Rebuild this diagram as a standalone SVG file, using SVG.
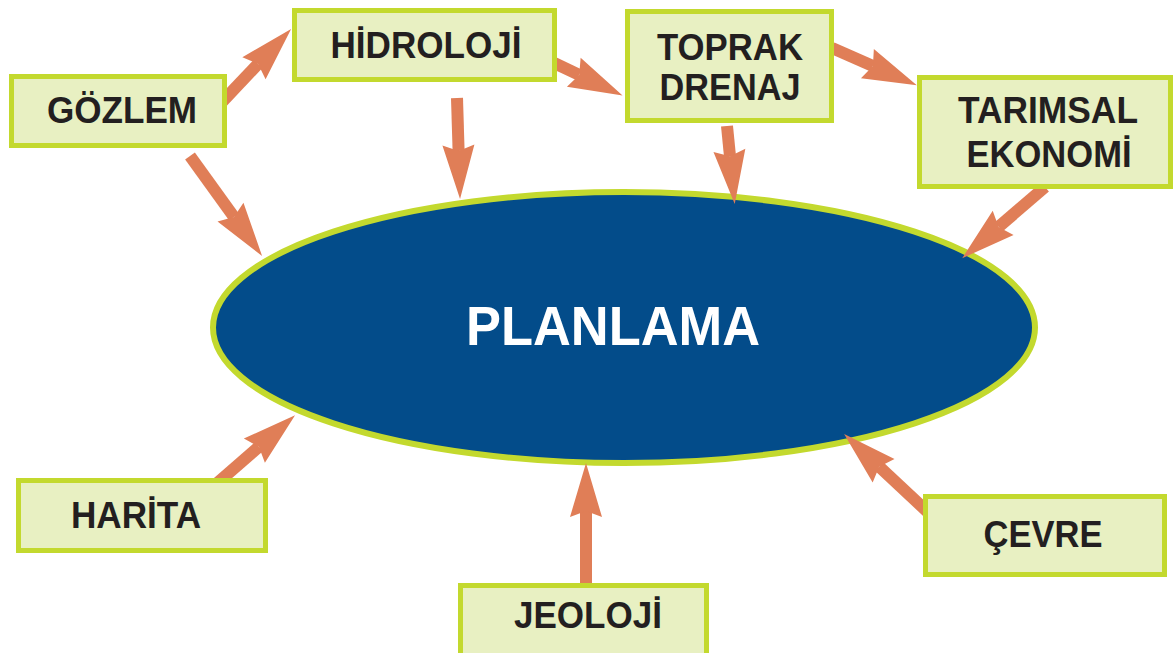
<svg xmlns="http://www.w3.org/2000/svg" width="1174" height="653" viewBox="0 0 1174 653">
<style>
.box{fill:#e8f0c2;stroke:#c3d92e;stroke-width:5}
.lbl{font-family:"Liberation Sans",Arial,sans-serif;font-weight:bold;font-size:36px;fill:#231f20;text-anchor:middle}
.arr{stroke:#e07e57;stroke-width:12;fill:none}
</style>
<defs>
<marker id="ah" markerUnits="userSpaceOnUse" markerWidth="60" markerHeight="40" viewBox="0 -20 60 40" refX="6" refY="0" orient="auto" overflow="visible">
<path d="M0,-16 L54,0 L0,16 L6,0 Z" fill="#e07e57"/>
</marker>
</defs>
<rect width="1174" height="653" fill="#ffffff"/>
<g id="planlama">
<ellipse cx="624" cy="327.5" rx="411" ry="135.5" fill="#034c8a" stroke="#c3d92e" stroke-width="6"/>
<text x="613" y="345" font-family="'Liberation Sans',Arial,sans-serif" font-weight="bold" font-size="55" fill="#ffffff" text-anchor="middle" textLength="294" lengthAdjust="spacingAndGlyphs">PLANLAMA</text>
</g>
<g id="connectors">
<line class="arr" x1="222" y1="102" x2="258.1" y2="63.9" marker-end="url(#ah)"/>
<line class="arr" x1="190" y1="156" x2="234" y2="217" marker-end="url(#ah)"/>
<line class="arr" x1="457" y1="98" x2="458.6" y2="151" marker-end="url(#ah)"/>
<line class="arr" x1="552" y1="62" x2="579.2" y2="74.9" marker-end="url(#ah)"/>
<line class="arr" x1="727" y1="126" x2="730" y2="156.3" marker-end="url(#ah)"/>
<line class="arr" x1="832" y1="48" x2="872.9" y2="66" marker-end="url(#ah)"/>
<line class="arr" x1="1045" y1="187" x2="998.6" y2="226.9" marker-end="url(#ah)"/>
<line class="arr" x1="215" y1="485" x2="258.9" y2="446.7" marker-end="url(#ah)"/>
<line class="arr" x1="586" y1="590" x2="586" y2="511" marker-end="url(#ah)"/>
<line class="arr" x1="932" y1="516" x2="879.2" y2="466.7" marker-end="url(#ah)"/>
</g>
<g id="gozlem">
<rect class="box" x="11.5" y="76.5" width="213" height="69"/>
<text class="lbl" x="122" y="123" textLength="150" lengthAdjust="spacingAndGlyphs">GÖZLEM</text>
</g>
<g id="hidroloji">
<rect class="box" x="294.5" y="10.5" width="260" height="69"/>
<text class="lbl" x="426" y="58" textLength="191" lengthAdjust="spacingAndGlyphs">HİDROLOJİ</text>
</g>
<g id="toprak-drenaj">
<rect class="box" x="627.5" y="11.5" width="204" height="109"/>
<text class="lbl" x="730" y="60" textLength="146" lengthAdjust="spacingAndGlyphs">TOPRAK</text>
<text class="lbl" x="730" y="100" textLength="141" lengthAdjust="spacingAndGlyphs">DRENAJ</text>
</g>
<g id="tarimsal-ekonomi">
<rect class="box" x="919.5" y="77.5" width="251" height="109"/>
<text class="lbl" x="1048" y="123" textLength="180" lengthAdjust="spacingAndGlyphs">TARIMSAL</text>
<text class="lbl" x="1049" y="167" textLength="165" lengthAdjust="spacingAndGlyphs">EKONOMİ</text>
</g>
<g id="harita">
<rect class="box" x="18.5" y="480.5" width="247" height="70"/>
<text class="lbl" x="136" y="528" textLength="130" lengthAdjust="spacingAndGlyphs">HARİTA</text>
</g>
<g id="jeoloji">
<rect class="box" x="460.5" y="585.5" width="246" height="75"/>
<text class="lbl" x="588" y="628" textLength="148" lengthAdjust="spacingAndGlyphs">JEOLOJİ</text>
</g>
<g id="cevre">
<rect class="box" x="925.5" y="496.5" width="239" height="78"/>
<text class="lbl" x="1043" y="547" textLength="119" lengthAdjust="spacingAndGlyphs">ÇEVRE</text>
</g>
</svg>
